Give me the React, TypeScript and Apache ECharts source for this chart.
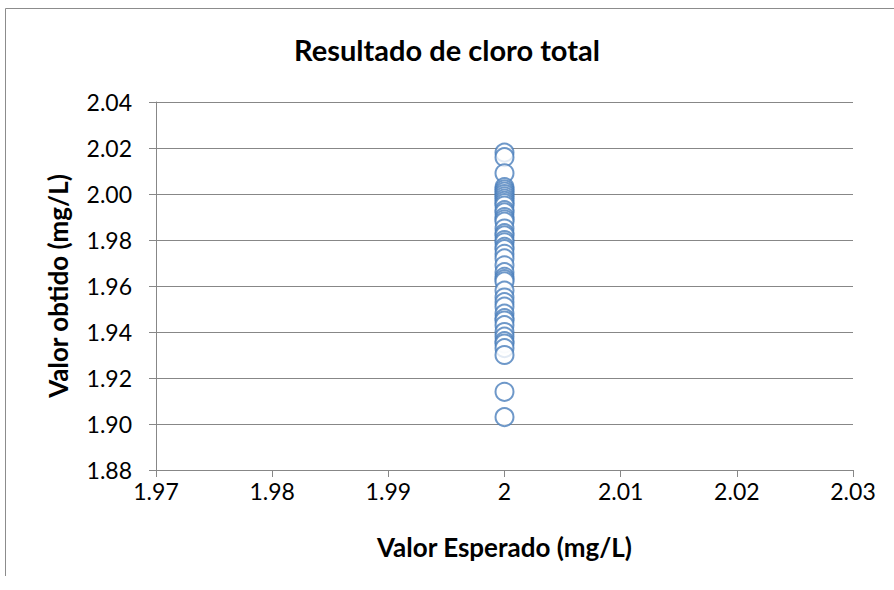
import React, { useEffect, useRef } from "react";
import * as echarts from "echarts";

const titleText = "Resultado de cloro total";
const xName = "Valor Esperado (mg/L)";
const yName = "Valor obtido (mg/L)";
const expectedValue = 2;
const obtainedValues = [
  2.018, 2.016, 2.009, 2.003, 2.002, 2.001, 2.0, 1.999, 1.998, 1.997, 1.996,
  1.995, 1.993, 1.992, 1.99, 1.989, 1.988, 1.985, 1.983, 1.982, 1.98, 1.979,
  1.977, 1.976, 1.974, 1.972, 1.969, 1.966, 1.964, 1.963, 1.962, 1.958, 1.955,
  1.953, 1.951, 1.948, 1.946, 1.945, 1.943, 1.94, 1.938, 1.936, 1.935, 1.933,
  1.93, 1.914, 1.903,
];
const xMin = 1.97;
const xMax = 2.03;
const xStep = 0.01;
const yMin = 1.88;
const yMax = 2.04;
const yStep = 0.02;

const FONT = "Lato, 'Open Sans', sans-serif";

export default function App() {
  const ref = useRef<HTMLDivElement>(null);
  useEffect(() => {
    if (!ref.current) return;
    const chart = echarts.init(ref.current, null, { renderer: "svg" });
    const gray = "#878787";
    chart.setOption({
      animation: false,
      backgroundColor: "#ffffff",
      title: {
        text: titleText,
        left: "center",
        top: 30,
        textStyle: { fontFamily: FONT, fontSize: 29, fontWeight: "bold", color: "#000" },
      },
      graphic: [
        {
          type: "polyline",
          shape: { points: [[5.5, 576], [5.5, 8.5], [894, 8.5]] },
          style: { stroke: "#8c8c8c", lineWidth: 1, fill: "none" },
          silent: true,
        },
      ],
      grid: { left: 156, right: 41, top: 102, bottom: 120, containLabel: false },
      xAxis: {
        type: "value",
        min: xMin,
        max: xMax,
        interval: xStep,
        name: xName,
        nameLocation: "middle",
        nameGap: 64,
        nameTextStyle: { fontFamily: FONT, fontSize: 26, fontWeight: "bold", color: "#000" },
        axisLine: { show: true, lineStyle: { color: gray, width: 1 } },
        axisTick: { show: true, length: 7, lineStyle: { color: gray } },
        splitLine: { show: false },
        axisLabel: {
          fontFamily: FONT,
          fontSize: 23,
          color: "#000",
          margin: 9,
          formatter: (v: number) => String(Number(v.toFixed(2))),
        },
      },
      yAxis: {
        type: "value",
        min: yMin,
        max: yMax,
        interval: yStep,
        name: yName,
        nameLocation: "middle",
        nameGap: 85,
        nameTextStyle: { fontFamily: FONT, fontSize: 26, fontWeight: "bold", color: "#000" },
        axisLine: { show: true, lineStyle: { color: gray, width: 1 } },
        axisTick: { show: true, length: 7, lineStyle: { color: gray } },
        splitLine: { show: true, lineStyle: { color: gray, width: 1 } },
        axisLabel: {
          fontFamily: FONT,
          fontSize: 23,
          color: "#000",
          margin: 24,
          formatter: (v: number) => v.toFixed(2),
        },
      },
      series: [
        {
          type: "scatter",
          symbol: "emptyCircle",
          symbolSize: 18,
          itemStyle: { color: "#4a7ebb", borderColor: "#4a7ebb", borderWidth: 2 },
          data: obtainedValues.map((v) => [expectedValue, v]),
        },
      ],
    });
    return () => chart.dispose();
  }, []);
  return <div ref={ref} style={{ width: 894, height: 590, position: "absolute", left: 0, top: 0 }} />;
}
